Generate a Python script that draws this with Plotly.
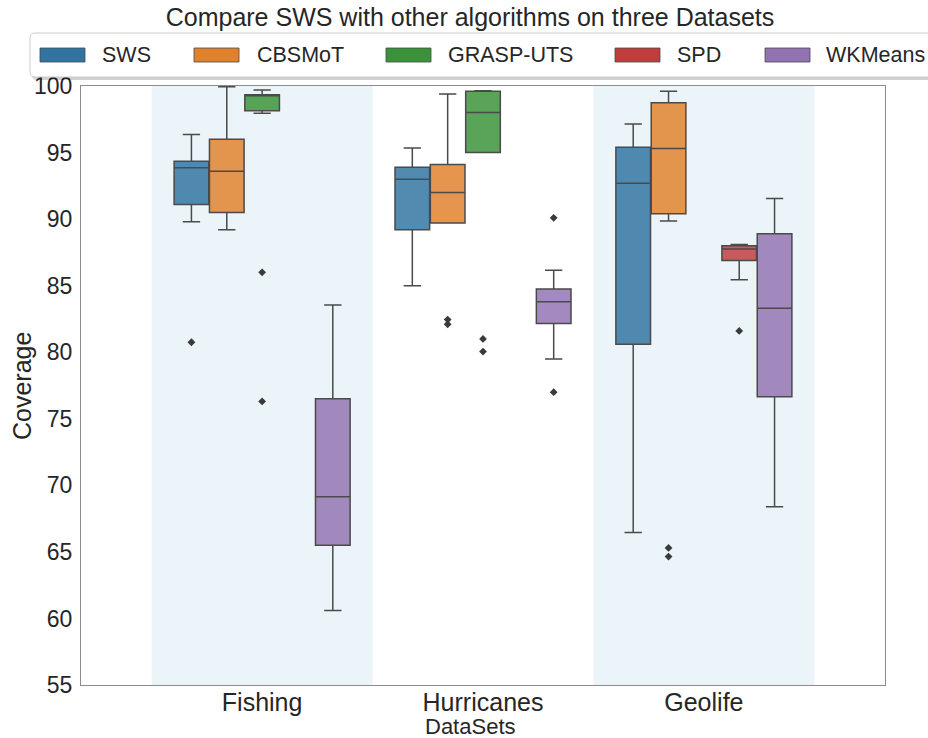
import plotly.graph_objects as go

# ---- data -----------------------------------------------------------------
datasets = ["Fishing", "Hurricanes", "Geolife"]
algorithms = ["SWS", "CBSMoT", "GRASP-UTS", "SPD", "WKMeans"]
colors = ["#3274a1", "#e1812c", "#3a923a", "#c03d3e", "#9372b2"]

# box statistics per algorithm, one value per dataset (None = not evaluated)
whisker_low = {
    "SWS": [89.8, 85.0, 66.45],
    "CBSMoT": [89.2, 89.7, 89.85],
    "GRASP-UTS": [97.95, 95.0, None],
    "SPD": [None, None, 85.45],
    "WKMeans": [60.6, 79.5, 68.4],
}
q1 = {
    "SWS": [91.1, 89.2, 80.6],
    "CBSMoT": [90.5, 89.7, 90.4],
    "GRASP-UTS": [98.15, 95.0, None],
    "SPD": [None, None, 86.9],
    "WKMeans": [65.5, 82.15, 76.65],
}
median = {
    "SWS": [93.85, 93.0, 92.7],
    "CBSMoT": [93.6, 92.0, 95.3],
    "GRASP-UTS": [99.3, 98.0, None],
    "SPD": [None, None, 87.75],
    "WKMeans": [69.15, 83.8, 83.3],
}
q3 = {
    "SWS": [94.35, 93.9, 95.4],
    "CBSMoT": [96.0, 94.1, 98.75],
    "GRASP-UTS": [99.35, 99.6, None],
    "SPD": [None, None, 88.0],
    "WKMeans": [76.5, 84.75, 88.9],
}
whisker_high = {
    "SWS": [96.35, 95.35, 97.15],
    "CBSMoT": [99.95, 99.4, 99.6],
    "GRASP-UTS": [99.7, 99.65, None],
    "SPD": [None, None, 88.1],
    "WKMeans": [83.55, 86.15, 91.55],
}
outliers = {
    "SWS": [[80.75], [], []],
    "CBSMoT": [[], [82.45, 82.1], [65.3, 64.65]],
    "GRASP-UTS": [[86.0, 76.3], [81.0, 80.05], []],
    "SPD": [[], [], [81.6]],
    "WKMeans": [[], [90.1, 77.0], []],
}

# ---- layout geometry ------------------------------------------------------
W, H = 928, 738
L, R, T, B = 81, 885, 86, 685          # plot area in pixels
FONT = "Liberation Sans, Arial, sans-serif"
TEXT = "#262626"
EDGE = "#4a4a4a"

group_width = 0.8
n_alg = len(algorithms)
box_w = group_width / n_alg


def px(x):
    return (x - L) / (R - L)


def py(y):
    return (B - y) / (B - T)


def rgba(hex_color, a):
    h = hex_color.lstrip("#")
    r, g, b = int(h[0:2], 16), int(h[2:4], 16), int(h[4:6], 16)
    return f"rgba({r},{g},{b},{a})"


fig = go.Figure()

for k, alg in enumerate(algorithms):
    offset = (k - (n_alg - 1) / 2) * box_w
    xs, lo, a, m, b, hi = [], [], [], [], [], []
    ox, oy = [], []
    for i, ds in enumerate(datasets):
        if median[alg][i] is None:
            continue
        xs.append(i + offset)
        lo.append(whisker_low[alg][i])
        a.append(q1[alg][i])
        m.append(median[alg][i])
        b.append(q3[alg][i])
        hi.append(whisker_high[alg][i])
        for v in outliers[alg][i]:
            ox.append(i + offset)
            oy.append(v)
    fig.add_trace(go.Box(
        x=xs, q1=a, median=m, q3=b, lowerfence=lo, upperfence=hi,
        width=box_w * 0.98, whiskerwidth=0.5,
        fillcolor=rgba(colors[k], 0.84),
        line=dict(color=EDGE, width=1.5),
        boxpoints=False, name=alg, showlegend=False, hoverinfo="skip",
    ))
    if ox:
        fig.add_trace(go.Scatter(
            x=ox, y=oy, mode="markers", showlegend=False, hoverinfo="skip",
            marker=dict(symbol="diamond", size=6, color="#3a3a3a"),
        ))

shapes = []
# alternate shaded bands behind every other dataset
for i in range(0, len(datasets), 2):
    shapes.append(dict(type="rect", xref="x", yref="paper",
                       x0=i - 0.5, x1=i + 0.5, y0=0, y1=1,
                       fillcolor="#ebf5f9", line=dict(width=0), layer="below"))

# legend frame (rounded, with a soft drop shadow)
def rounded(x0, y0, x1, y1, r):
    rx = r / (R - L)
    ry = r / (B - T)
    X0, X1 = px(x0), px(x1)
    Y0, Y1 = py(y0), py(y1)   # Y0 top, Y1 bottom
    return (f"M {X0+rx},{Y0} L {X1-rx},{Y0} Q {X1},{Y0} {X1},{Y0-ry} "
            f"L {X1},{Y1+ry} Q {X1},{Y1} {X1-rx},{Y1} "
            f"L {X0+rx},{Y1} Q {X0},{Y1} {X0},{Y1+ry} "
            f"L {X0},{Y0-ry} Q {X0},{Y0} {X0+rx},{Y0} Z")

shapes.append(dict(type="path", xref="paper", yref="paper",
                   path=rounded(32, 35, 945, 80, 5),
                   fillcolor="rgba(0,0,0,0.18)", line=dict(width=0)))
shapes.append(dict(type="path", xref="paper", yref="paper",
                   path=rounded(30, 33, 943, 77, 5),
                   fillcolor="white", line=dict(color="#cccccc", width=1)))

legend_patch_x = [40, 194, 386, 615, 765]
legend_text_x = [100, 255, 446, 675, 824]
annotations = []
for k, alg in enumerate(algorithms):
    shapes.append(dict(type="rect", xref="paper", yref="paper",
                       x0=px(legend_patch_x[k]), x1=px(legend_patch_x[k] + 45),
                       y0=py(62), y1=py(48),
                       fillcolor=colors[k], line=dict(color=EDGE, width=0.8)))
    annotations.append(dict(text=alg, xref="paper", yref="paper",
                            x=px(legend_text_x[k]), y=py(55),
                            xanchor="left", yanchor="middle", showarrow=False,
                            font=dict(family=FONT, size=21.5, color=TEXT)))

annotations.append(dict(text="DataSets", xref="paper", yref="paper",
                        x=px(470), y=py(726), xanchor="center", yanchor="middle",
                        showarrow=False, font=dict(family=FONT, size=22, color=TEXT)))
annotations.append(dict(text="Coverage", xref="paper", yref="paper",
                        x=px(22), y=py(386), xanchor="center", yanchor="middle",
                        textangle=-90, showarrow=False,
                        font=dict(family=FONT, size=25, color=TEXT)))

fig.update_layout(
    width=W, height=H,
    margin=dict(l=L, r=W - R, t=T, b=H - B),
    paper_bgcolor="white", plot_bgcolor="white",
    title=dict(text="Compare SWS with other algorithms on three Datasets",
               x=px(470), xref="paper", xanchor="center",
               y=1 - 17 / H, yref="container", yanchor="middle",
               font=dict(family=FONT, size=25, color=TEXT)),
    showlegend=False,
    shapes=shapes,
    annotations=annotations,
    xaxis=dict(range=[-0.82, 2.82], tickvals=list(range(len(datasets))),
               ticktext=datasets, showgrid=False, zeroline=False,
               showline=True, mirror=True, linecolor="#8c8c8c", linewidth=1,
               tickfont=dict(family=FONT, size=25, color=TEXT), ticks="",
               ticklabelstandoff=-5),
    yaxis=dict(range=[55, 100], dtick=5, showgrid=False, zeroline=False,
               showline=True, mirror=True, linecolor="#8c8c8c", linewidth=1,
               tickfont=dict(family=FONT, size=23, color=TEXT), ticks="",
               ticklabelstandoff=3),
)

fig.write_html("out.html")
